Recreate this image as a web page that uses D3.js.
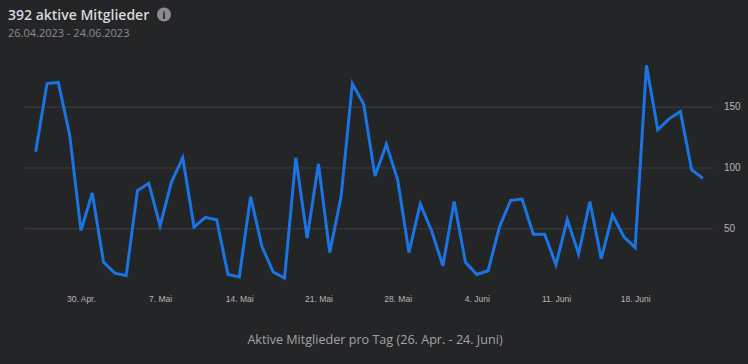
<!DOCTYPE html>
<html>
<head>
<meta charset="utf-8">
<script src="https://cdn.jsdelivr.net/npm/d3@7"></script>
<style>
  html, body { margin: 0; padding: 0; background: #242526; overflow: hidden; }
  svg { display: block; }
</style>
</head>
<body>
<svg id="chart"></svg>
<script>
// Daily active members, 26 Apr - 24 Jun 2023
const startDate = new Date(2023, 3, 26);
const endDate = new Date(2023, 5, 24);
const members = [
  113, 169, 170, 127, 48, 79, 22, 13, 11, 81,
  87, 52, 88, 108, 51, 59, 57, 12, 10, 76,
  35, 14, 9, 108, 42, 103, 30, 76, 169, 152,
  93, 119, 90, 30, 70, 48, 19, 72, 22, 12,
  15, 51, 73, 74, 45, 45, 20, 57, 29, 72,
  25, 61, 43, 34, 184, 131, 140, 146, 98, 91
];
const xTicks = [
  new Date(2023, 3, 30), new Date(2023, 4, 7), new Date(2023, 4, 14), new Date(2023, 4, 21),
  new Date(2023, 4, 28), new Date(2023, 5, 4), new Date(2023, 5, 11), new Date(2023, 5, 18)
];
const xTickLabels = ["30. Apr.", "7. Mai", "14. Mai", "21. Mai", "28. Mai", "4. Juni", "11. Juni", "18. Juni"];
const yTicks = [50, 100, 150];

const dimensions = { width: 748, height: 364 };
const uiFont = "'Open Sans', 'Noto Sans', sans-serif";
const tickFont = "'Liberation Sans', Arial, sans-serif";

const svg = d3.select("#chart")
  .attr("width", dimensions.width)
  .attr("height", dimensions.height);

const xScale = d3.scaleTime().domain([startDate, endDate]).range([35.7, 703]);
const yScale = d3.scaleLinear().domain([0, 150]).range([289, 106.7]);

// Gridlines plus right hand labels
const yAxis = svg.append("g")
  .attr("transform", "translate(713,0)")
  .call(d3.axisRight(yScale).tickValues(yTicks).tickSize(-688).tickPadding(11));
yAxis.select(".domain").remove();
yAxis.selectAll("line").attr("stroke", "#3c3d3f").attr("stroke-width", 1);
yAxis.selectAll("text")
  .attr("fill", "#b4b6b9")
  .style("font-family", tickFont)
  .style("font-size", "10px");

const xAxis = svg.append("g")
  .attr("transform", "translate(0,289)")
  .call(d3.axisBottom(xScale).tickValues(xTicks).tickSize(0).tickPadding(7)
    .tickFormat((d, i) => xTickLabels[i]));
xAxis.select(".domain").remove();
xAxis.selectAll("text")
  .attr("fill", "#b4b6b9")
  .style("font-family", tickFont)
  .style("font-size", "8.5px");

const line = d3.line()
  .x((d, i) => xScale(d3.timeDay.offset(startDate, i)))
  .y(d => yScale(d));

svg.append("path")
  .datum(members)
  .attr("fill", "none")
  .attr("stroke", "#1b74e4")
  .attr("stroke-width", 3)
  .attr("stroke-linejoin", "miter")
  .attr("d", line);

// Header
svg.append("text")
  .attr("x", 8).attr("y", 20)
  .attr("fill", "#d6d8dc")
  .style("font-family", uiFont)
  .style("font-weight", 600)
  .style("font-size", "14px")
  .text("392 aktive Mitglieder");

svg.append("circle")
  .attr("cx", 164).attr("cy", 14.5).attr("r", 7)
  .attr("fill", "#8a8c90");
svg.append("text")
  .attr("x", 164).attr("y", 18.5)
  .attr("text-anchor", "middle")
  .attr("fill", "#242526")
  .style("font-family", uiFont)
  .style("font-weight", 700)
  .style("font-size", "11px")
  .text("i");

svg.append("text")
  .attr("x", 8).attr("y", 37)
  .attr("fill", "#8b8d91")
  .style("font-family", uiFont)
  .style("font-size", "11px")
  .text("26.04.2023 - 24.06.2023");

svg.append("text")
  .attr("x", 375).attr("y", 344)
  .attr("text-anchor", "middle")
  .attr("fill", "#a0a3a8")
  .style("font-family", uiFont)
  .style("font-size", "12.6px")
  .text("Aktive Mitglieder pro Tag (26. Apr. - 24. Juni)");
</script>
</body>
</html>
